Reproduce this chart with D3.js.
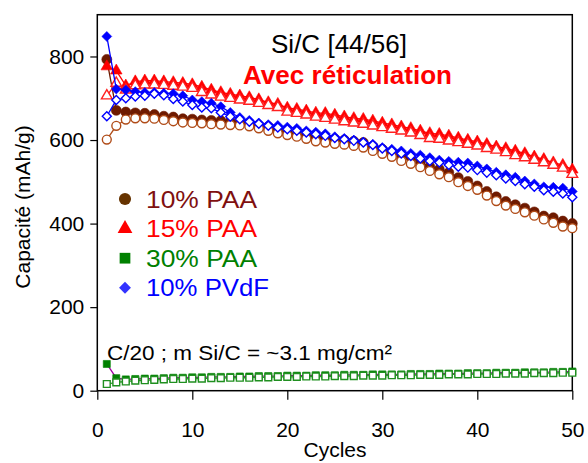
<!DOCTYPE html>
<html><head><meta charset="utf-8">
<script src="https://cdn.jsdelivr.net/npm/d3@7"></script>
<style>body{margin:0;background:#fff}svg{display:block;font-family:Arial,"Liberation Sans",sans-serif}</style>
</head><body><svg id="c" width="588" height="463"></svg>
<script>
const cycles = d3.range(1, 51);
const paa10Filled = [793,671,667,665,664,661,657,655,651,650,648,647,646,645,642,640,635,632,622,617,612,609,606,605,602,600,597,594,585,578,571,563,558,547,536,530,522,510,501,490,477,464,453,445,437,428,418,414,406,400];
const paa10Open = [601,634,649,652,652,651,648,645,642,641,640,638,637,636,635,633,628,622,616,612,608,603,597,594,591,589,586,582,574,567,560,550,543,535,526,518,511,499,490,481,467,454,443,435,427,419,410,402,393,389];
const paa15Filled = [776,766,730,740,742,742,740,738,736,733,727,720,714,710,706,702,697,690,686,677,674,670,665,664,660,656,652,650,646,641,637,632,628,622,616,614,610,605,600,596,590,584,580,574,568,560,554,546,540,529];
const paa15Open = [706,736,720,730,732,732,731,729,727,724,714,708,703,700,696,693,688,683,678,667,664,660,655,652,648,644,641,638,634,630,626,622,617,611,604,602,598,594,590,586,580,576,570,563,558,552,546,540,533,518];
const paa30Filled = [64,30,27,28,29,29,30,31,31,32,32,33,33,33,34,34,35,35,35,36,36,36,37,37,37,38,38,38,39,39,39,39,40,40,40,41,41,41,42,42,42,43,43,43,44,44,44,45,45,46];
const paa30Open = [16,20,22,24,25,26,27,28,28,29,29,30,30,31,31,31,32,32,33,33,33,34,34,34,35,35,35,36,36,36,37,37,37,38,38,38,39,39,39,40,40,40,41,41,41,42,42,42,43,43];
const pvdfFilled = [848,722,720,716,714,714,712,711,706,696,692,688,680,666,654,647,641,637,635,631,628,622,619,615,608,604,600,595,590,582,578,574,568,564,558,552,549,547,545,538,531,523,517,511,502,495,488,487,485,477];
const pvdfOpen = [657,696,700,704,706,711,707,698,692,684,678,676,666,656,650,644,639,634,630,626,622,618,614,610,605,602,598,594,588,580,574,568,562,556,550,546,540,536,534,528,522,516,508,502,494,488,480,476,472,463];
const xTicks = [0,10,20,30,40,50];
const yTicks = [0,200,400,600,800];
const legendLabels = ["10% PAA","15% PAA","30% PAA","10% PVdF"];

const svg = d3.select("#c");
const x = d3.scaleLinear().domain([0,50]).range([97.3,572.3]);
const y = d3.scaleLinear().domain([0,900]).range([390.7,14.7]);

svg.append("rect").attr("x",97.3).attr("y",14.7).attr("width",475).attr("height",376)
  .attr("fill","none").attr("stroke","#000").attr("stroke-width",1.5);

const xa = svg.append("g").attr("transform","translate(0,390.7)")
  .call(d3.axisBottom(x).tickValues(xTicks).tickSize(9).tickPadding(22).tickFormat(d3.format("d")));
const ya = svg.append("g").attr("transform","translate(97.3,0)")
  .call(d3.axisLeft(y).tickValues(yTicks).tickSize(7).tickPadding(6).tickFormat(d3.format("d")));
[xa,ya].forEach(a=>{a.select(".domain").remove();
  a.selectAll("line").attr("stroke","#000").attr("stroke-width",1.2);
  a.selectAll("text").attr("font-size",21).attr("fill","#000").attr("font-family","Arial, 'Liberation Sans', sans-serif");});

svg.append("text").attr("x",335).attr("y",457).attr("text-anchor","middle").attr("font-size",21).text("Cycles");
svg.append("text").attr("transform","translate(30,207) rotate(-90)").attr("text-anchor","middle").attr("font-size",21).text("Capacité (mAh/g)");

const line = d3.line().x((d,i)=>x(cycles[i])).y(d=>y(d));
const sym = (t,s)=>d3.symbol().type(t).size(s)();

function series(vals, lineColor, shape, size, fill, stroke, sw){
  svg.append("path").attr("d",line(vals)).attr("fill","none").attr("stroke",lineColor).attr("stroke-width",1.3);
  svg.append("g").selectAll("path").data(vals).join("path")
    .attr("transform",(d,i)=>`translate(${x(cycles[i])},${y(d)})`)
    .attr("d",sym(shape,size)).attr("fill",fill).attr("stroke",stroke).attr("stroke-width",sw);
}
series(paa10Filled,"#6e1a00",d3.symbolCircle,78,"#6e1a00","#6e1a00",0.6);
series(paa10Open,"#b04c18",d3.symbolCircle,62,"#fff","#b04c18",1.4);
series(paa15Filled,"#ff0000",d3.symbolTriangle,58,"#ff0000","#ff0000",0.6);
series(paa15Open,"#ff2020",d3.symbolTriangle,50,"#fff","#ff2020",1.4);
series(paa30Filled,"#a000a0",d3.symbolSquare,50,"#008000","#008000",0.6);
series(paa30Open,"#2a9a2a",d3.symbolSquare,46,"#fff","#1f8f1f",1.4);
series(pvdfFilled,"#0000ff",d3.symbolDiamond2,62,"#0000ff","#0000ff",0.6);
series(pvdfOpen,"#0000ff",d3.symbolDiamond2,52,"#fff","#0000ff",1.4);

svg.append("text").attr("x",271).attr("y",53).attr("font-size",25).attr("textLength",136).attr("lengthAdjust","spacingAndGlyphs").attr("fill","#000").text("Si/C [44/56]");
svg.append("text").attr("x",243).attr("y",84).attr("font-size",25).attr("font-weight","bold").attr("textLength",209).attr("lengthAdjust","spacingAndGlyphs").attr("fill","#ff0000").text("Avec réticulation");
svg.append("text").attr("x",107).attr("y",360).attr("font-size",20).attr("textLength",285).attr("lengthAdjust","spacingAndGlyphs").attr("fill","#000").text("C/20 ; m Si/C = ~3.1 mg/cm²");

const lgShapes = [d3.symbolCircle,d3.symbolTriangle,d3.symbolSquare,d3.symbolDiamond2];
const lgSym = ["#663300","#ff0000","#008000","#3333ff"];
const lgTxt = ["#7f1010","#ff0000","#008000","#0000ff"];
const lgSizes = [115,95,115,90];
const lgLen = [111,111,111,123];
legendLabels.forEach((t,i)=>{
  const cy = 199 + i*29.6;
  svg.append("path").attr("transform",`translate(125,${cy})`).attr("d",sym(lgShapes[i],lgSizes[i])).attr("fill",lgSym[i]);
  svg.append("text").attr("x",146).attr("y",cy+8.5).attr("font-size",23).attr("textLength",lgLen[i]).attr("lengthAdjust","spacingAndGlyphs").attr("fill",lgTxt[i]).text(t);
});
</script></body></html>
